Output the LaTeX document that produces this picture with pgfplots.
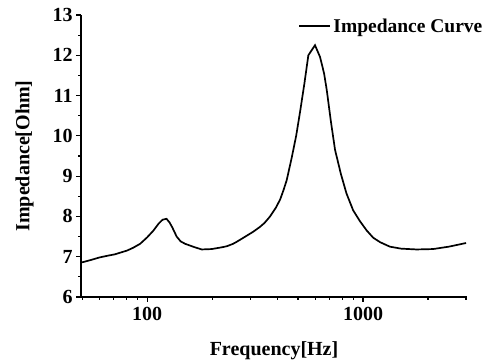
\documentclass[border=0pt]{standalone}
\usepackage{fontspec}
\setmainfont{Liberation Serif}
\usepackage{pgfplots}
\pgfplotsset{compat=1.18}
\begin{document}
\begin{tikzpicture}
\begin{axis}[
  scale only axis,
  width=386pt, height=282pt,
  xmode=log,
  xmin=49.4, xmax=3030,
  ymin=6, ymax=13,
  axis x line=bottom, axis y line=left,
  axis line style={-, line width=1.6pt},
  tick align=outside,
  tick style={line width=1.2pt, black},
  major tick length=5pt, minor tick length=3pt,
  xtick={100,1000}, xticklabels={100,1000},
  minor xtick={50,60,70,80,90,200,300,400,500,600,700,800,900,2000,3000},
  ytick={6,7,8,9,10,11,12,13},
  minor y tick num=1,
  /pgf/number format/assume math mode=true,
  tick label style={font=\bfseries\fontsize{20}{20}\selectfont},
  xticklabel style={yshift=-2pt},
  xlabel={Frequency[Hz]}, ylabel={Impedance[Ohm]},
  label style={font=\bfseries\fontsize{20}{20}\selectfont},
  xlabel style={yshift=-14pt},
  ylabel style={yshift=12pt},
  legend style={at={(rel axis cs:0.555,0.96)}, anchor=west, draw=none, fill=none,
    font=\bfseries\fontsize{19.5}{19.5}\selectfont},
  legend image code/.code={\draw[#1, line width=2pt] (0pt,0pt) -- (31pt,0pt);},
  clip=false,
]
\addplot[black, line width=1.7pt] coordinates {
(50,6.86) (55,6.92) (60,6.98) (65,7.02) (71,7.06) (75,7.10) (80.5,7.15) (86,7.22)
(92.8,7.32) (100,7.48) (107,7.65) (113,7.82) (118,7.92) (123,7.94) (127,7.85)
(131,7.72) (137,7.50) (143,7.38) (150,7.32) (165,7.24) (179,7.18) (199,7.19)
(220,7.23) (234,7.26) (250,7.32) (260,7.37) (289,7.52) (310,7.62) (333,7.74)
(350,7.84) (371,8.00) (395,8.22) (413,8.42) (428,8.65) (443,8.90) (467,9.45)
(490,10.0) (511,10.6) (535,11.3) (558,12.0) (599,12.25) (632,11.96) (660,11.55)
(679,11.14) (710,10.35) (742,9.65) (790,9.05) (838,8.57) (900,8.15) (968,7.88)
(1040,7.65) (1115,7.47) (1200,7.36) (1330,7.25) (1500,7.20) (1770,7.18)
(2110,7.19) (2500,7.25) (3000,7.34)
};
\addlegendentry{Impedance Curve}
\end{axis}
\path[use as bounding box] (-81pt,-66pt) rectangle (415pt,297pt);
\end{tikzpicture}
\end{document}
